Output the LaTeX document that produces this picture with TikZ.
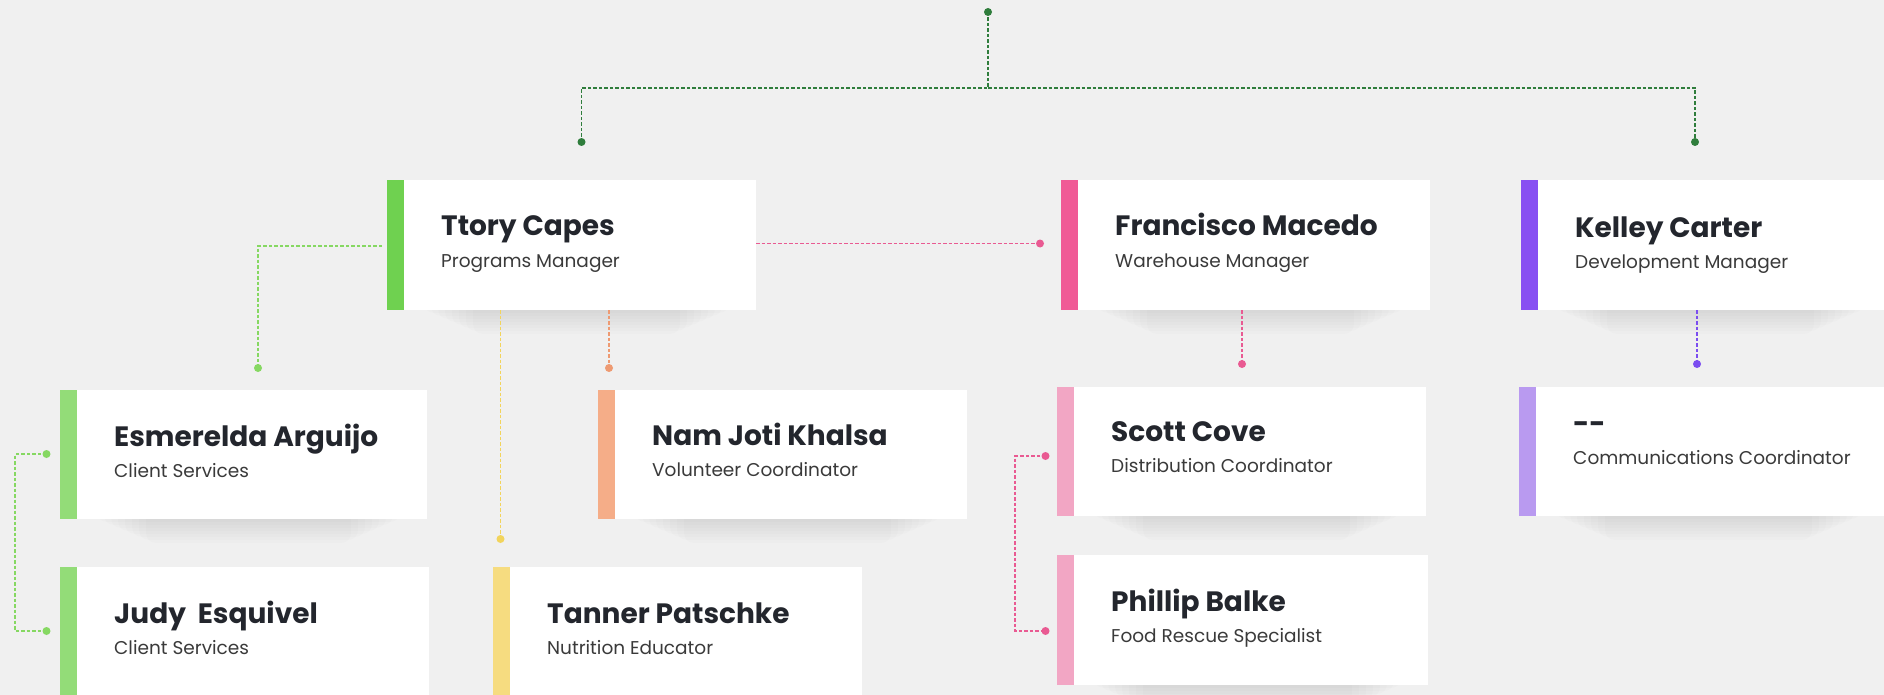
\documentclass[tikz,border=0pt]{standalone}
\usepackage{fontspec}
\setmainfont{Poppins}
\usetikzlibrary{calc}
\definecolor{bg}{HTML}{F0F0F0}
\definecolor{nametc}{HTML}{23262D}
\definecolor{roletc}{HTML}{3A3A3A}
\definecolor{cDark}{HTML}{2F7D3C}
\definecolor{cGreen}{HTML}{6FD150}
\definecolor{cLGreen}{HTML}{93DC78}
\definecolor{cPeach}{HTML}{F5AD88}
\definecolor{cYellow}{HTML}{F6DC80}
\definecolor{cPink}{HTML}{F05A96}
\definecolor{cLPink}{HTML}{F2A6C4}
\definecolor{cPurple}{HTML}{8850F2}
\definecolor{cLPurple}{HTML}{B99AF0}
\definecolor{lnLGreen}{HTML}{86D862}
\definecolor{lnYellow}{HTML}{F2D45C}
\definecolor{lnOrange}{HTML}{EE9A72}
\definecolor{lnPink}{HTML}{E95A92}
\definecolor{lnPurple}{HTML}{7B4DF0}
\tikzset{
  box/.style={rectangle, fill=white, draw=none, inner sep=0pt, outer sep=0pt},
  nametext/.style={inner sep=0pt, text=nametc, font=\fontsize{28}{33}\selectfont\bfseries},
  roletext/.style={inner sep=0pt, text=roletc, font=\fontsize{18.5}{22}\selectfont},
  conn/.style={line width=1.6pt, dash pattern=on 3.5pt off 2pt},
  dotc/.style={circle, inner sep=0pt, minimum size=8pt},
}
\newcommand{\orgbox}[9]{%
  \foreach \k in {1,...,8} {
    \fill[black, opacity=0.011, rounded corners=10pt]
      (#2+30+\k*7, #3+#5-10) rectangle (#2+#4-20-\k*7, #3+#5+\k*3);
  }
  \node[box, minimum width=#4pt, minimum height=#5pt, anchor=north west] (#1) at (#2,#3) {};
  \fill[#6] (#1.north west) rectangle ($(#1.south west)+(17,0)$);
  \node[nametext, anchor=base west] (#1-n) at ($(#1.north west)+(54,#9)$) {#7};
  \node[roletext, anchor=base west] (#1-r) at ($(#1.north west)+(54,#9+31)$) {#8};
}
\begin{document}
\begin{tikzpicture}[x=1pt, y=-1pt]
\clip (0,0) rectangle (1884,695);
\fill[bg] (0,0) rectangle (1884,695);

% boxes
\orgbox{ttory}{387}{180}{369}{130}{cGreen}{Ttory Capes}{Programs Manager}{56}
\orgbox{franc}{1061}{180}{369}{130}{cPink}{Francisco Macedo}{Warehouse Manager}{56}
\orgbox{kelley}{1521}{180}{369}{130}{cPurple}{Kelley Carter}{Development Manager}{57}
\orgbox{esme}{60}{390}{367}{129}{cLGreen}{Esmerelda Arguijo}{Client Services}{56}
\orgbox{judy}{60}{567}{369}{130}{cLGreen}{Judy\ \ Esquivel}{Client Services}{56}
\orgbox{nam}{598}{390}{369}{129}{cPeach}{Nam Joti Khalsa}{Volunteer Coordinator}{55}
\orgbox{tanner}{493}{567}{369}{130}{cYellow}{Tanner Patschke}{Nutrition Educator}{56}
\orgbox{scott}{1057}{387}{369}{129}{cLPink}{Scott Cove}{Distribution Coordinator}{54}
\orgbox{phillip}{1057}{555}{371}{130}{cLPink}{Phillip Balke}{Food Rescue Specialist}{56}
\orgbox{comm}{1519}{387}{369}{129}{cLPurple}{-{}-}{Communications Coordinator}{46}

% connector end points
\coordinate (top) at (988,12);
\coordinate (jtop) at (988,88);
\coordinate (inTtory) at (581.5,142);
\coordinate (inKelley) at (1695,142);
\coordinate (inFranc) at (1040,243.5);
\coordinate (inEsme) at (258,368);
\coordinate (inTanner) at (500.5,539);
\coordinate (inNam) at (609,368);
\coordinate (inScott) at (1242,364);
\coordinate (inComm) at (1697,364);
\coordinate (brL1) at (46.5,454);
\coordinate (brL2) at (46.5,631);
\coordinate (brP1) at (1045.5,456);
\coordinate (brP2) at (1045.5,631);

% top tree
\draw[conn, cDark] (top) -- (jtop) -| (inTtory);
\draw[conn, cDark] (jtop) -| (inKelley);
\foreach \p in {top,inTtory,inKelley} \node[dotc, fill=cDark] at (\p) {};

% Ttory -> Francisco
\draw[conn, lnPink] (ttory.east |- inFranc) -- (inFranc);
\node[dotc, fill=lnPink] at (inFranc) {};

% Ttory -> Esmerelda
\draw[conn, lnLGreen] ($(ttory.west |- 0,246)+(-5,0)$) -| (inEsme);
\node[dotc, fill=lnLGreen] at (inEsme) {};

% Ttory -> Tanner
\draw[conn, lnYellow] (ttory.south -| inTanner) -- (inTanner);
\node[dotc, fill=lnYellow] at (inTanner) {};

% Ttory -> Nam
\draw[conn, lnOrange] (ttory.south -| inNam) -- (inNam);
\node[dotc, fill=lnOrange] at (inNam) {};

% Francisco -> Scott
\draw[conn, lnPink] (franc.south -| inScott) -- (inScott);
\node[dotc, fill=lnPink] at (inScott) {};

% Kelley -> Communications
\draw[conn, lnPurple] (kelley.south -| inComm) -- (inComm);
\node[dotc, fill=lnPurple] at (inComm) {};

% Esmerelda -- Judy bracket
\draw[conn, lnLGreen] (brL1) -- (15,454) -- (15,631) -- (brL2);
\node[dotc, fill=lnLGreen] at (brL1) {};
\node[dotc, fill=lnLGreen] at (brL2) {};

% Scott -- Phillip bracket
\draw[conn, lnPink] (brP1) -- (1015,456) -- (1015,631) -- (brP2);
\node[dotc, fill=lnPink] at (brP1) {};
\node[dotc, fill=lnPink] at (brP2) {};
\end{tikzpicture}
\end{document}
